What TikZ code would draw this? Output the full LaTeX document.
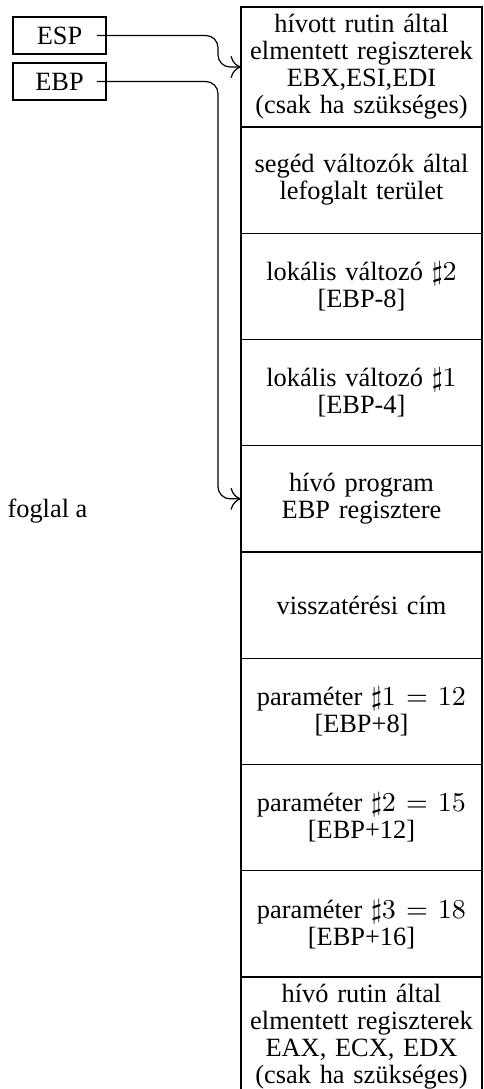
\documentclass[tikz,border=0pt]{standalone}
\usepackage{amsmath}
\usepackage{amssymb}
\usepackage{fontspec}
\setmainfont{Liberation Serif}
\usetikzlibrary{arrows.meta, positioning}

\newcommand\cellfont{\fontsize{8.7}{8.9}\selectfont\lineskiplimit=-10pt}

\begin{document}
\begin{tikzpicture}[
    x=0.33pt, y=-0.33pt,
    cell/.style={rectangle, draw, text width=79.5pt, align=center, inner sep=0pt,
                 outer sep=0pt, minimum height=35.06pt, font=\cellfont},
    bigcell/.style={cell, minimum height=39.6pt},
    regbox/.style={rectangle, draw, minimum width=30.7pt, minimum height=12.2pt,
                   inner sep=0pt, outer sep=0pt, font=\cellfont},
    arr/.style={-{To[scale=1.4]}, rounded corners=4pt}
]
\clip (0,0) rectangle (483,1089);

%% ===== STACK =====
\node[bigcell] (saved)  at (361.5,67) {hívott rutin által\\elmentett regiszterek\\EBX,ESI,EDI\\(csak ha szükséges)};
\node[cell, below=0pt of saved]  (temp)  {segéd változók által\\lefoglalt terület};
\node[cell, below=0pt of temp]   (loc2)  {lokális változó $\sharp2$\\{[EBP-8]}};
\node[cell, below=0pt of loc2]   (loc1)  {lokális változó $\sharp1$\\{[EBP-4]}};
\node[cell, below=0pt of loc1]   (oldbp) {hívó program\\EBP regisztere};
\node[cell, below=0pt of oldbp]  (ret)   {visszatérési cím};
\node[cell, below=0pt of ret]    (par1)  {paraméter $\sharp1 = 12$\\{[EBP+8]}};
\node[cell, below=0pt of par1]   (par2)  {paraméter $\sharp2 = 15$\\{[EBP+12]}};
\node[cell, below=0pt of par2]   (par3)  {paraméter $\sharp3 = 18$\\{[EBP+16]}};
\node[bigcell, below=0pt of par3] (callsv) {hívó rutin által\\elmentett regiszterek\\EAX, ECX, EDX\\(csak ha szükséges)};

%% ===== REGISTERS =====
\node[regbox] (esp) at (59.5,35.5) {ESP};
\node[regbox] (ebp) at (59.5,81.5) {EBP};

\node[anchor=base west, inner sep=0pt, font=\cellfont] (foglal) at (7,517) {foglal a};

%% ===== ARROWS =====
\draw[arr] ([xshift=-3pt]esp.east) -- (esp.east -| 218,0) |- (saved.west);
\draw[arr] ([xshift=-3pt]ebp.east) -- (ebp.east -| 218,0) |- (oldbp.west);

\end{tikzpicture}
\end{document}
